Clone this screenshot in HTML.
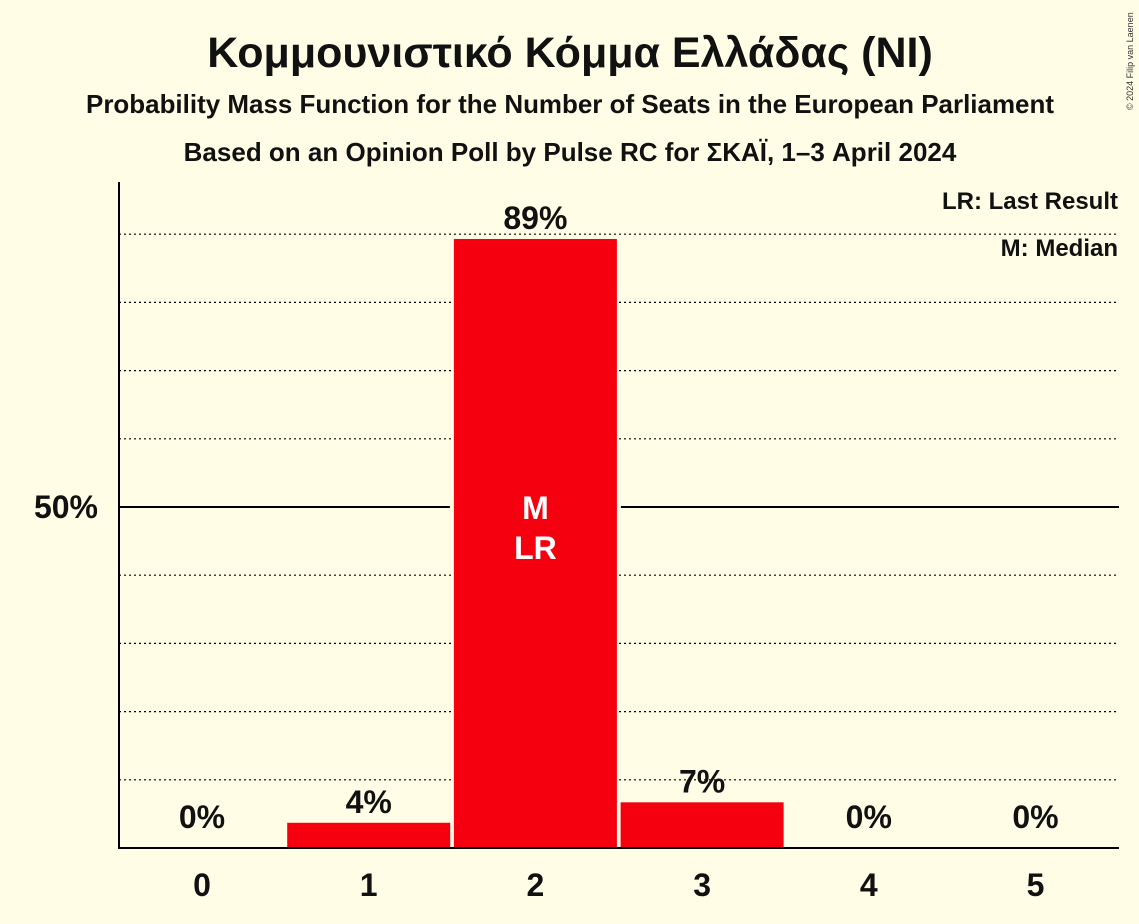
<!DOCTYPE html>
<html><head><meta charset="utf-8"><style>
body{margin:0;background:#fffde6;}
svg{display:block;font-family:"Liberation Sans","DejaVu Sans",sans-serif;}
</style></head><body>
<svg id="chart" width="1139" height="924" viewBox="0 0 1139 924">
<rect width="1139" height="924" fill="#fffde6"/>
<text x="570" y="67" text-anchor="middle" font-size="43" font-weight="bold" fill="#111">Κομμουνιστικό Κόμμα Ελλάδας (NI)</text>
<text x="570" y="113" text-anchor="middle" font-size="26" font-weight="bold" fill="#111" textLength="968" lengthAdjust="spacingAndGlyphs">Probability Mass Function for the Number of Seats in the European Parliament</text>
<text x="570" y="161" text-anchor="middle" font-size="26" font-weight="bold" fill="#111">Based on an Opinion Poll by Pulse RC for ΣΚΑΪ, 1–3 April 2024</text>
<text x="1133" y="110" font-size="9" fill="#333" transform="rotate(-90 1133 110)">© 2024 Filip van Laenen</text>
<g id="grid"></g>
<g id="bars"></g>
<line x1="119" y1="182" x2="119" y2="848" stroke="#000" stroke-width="2"/>
<line x1="118" y1="848" x2="1119" y2="848" stroke="#000" stroke-width="2"/>
<text x="98" y="518" text-anchor="end" font-size="32" font-weight="bold" fill="#111">50%</text>
<text x="1118" y="209" text-anchor="end" font-size="24" font-weight="bold" fill="#111">LR: Last Result</text>
<text x="1118" y="256" text-anchor="end" font-size="24" font-weight="bold" fill="#111">M: Median</text>
</svg>
<script>
const seats=[0,1,2,3,4,5];
const probs=[0,3.7,89.3,6.7,0,0];
const labels=["0%","4%","89%","7%","0%","0%"];
const medianSeat=2;
const lastResultSeat=2;
const NS="http://www.w3.org/2000/svg";
const x0=119,yBase=848,pxPer=6.82,step=166.7,bw=163;
const xc=i=>x0+83+i*step;
const y=v=>yBase-v*pxPer;
function mk(t,a,p){const e=document.createElementNS(NS,t);for(const k in a)e.setAttribute(k,a[k]);p.appendChild(e);return e;}
const grid=document.getElementById('grid'),bars=document.getElementById('bars');
for(let g=10;g<=90;g+=10){
 if(g===50)continue;
 const l=mk('line',{x1:119,x2:1119,y1:y(g),y2:y(g),stroke:'#000','stroke-width':1.2,'stroke-dasharray':'2,3'},grid);
 
 
}
seats.forEach((s,i)=>{
 const v=probs[i];
 if(v>0){
  const r=mk('rect',{x:xc(i)-bw/2,y:y(v),width:bw,height:yBase-y(v),fill:'#f5000f'},bars);
  
  
 }
 const ly=v>0?y(v)-10:y(0)-20;
 const t=mk('text',{x:xc(i),y:ly,'text-anchor':'middle','font-size':32,'font-weight':'bold',fill:'#111'},bars);
 t.textContent=labels[i];
 
 
 const xt=mk('text',{x:xc(i),y:896,'text-anchor':'middle','font-size':32,'font-weight':'bold',fill:'#111'},bars);
 xt.textContent=s;
 
 
});
const bg=mk('line',{x1:119,x2:1119,y1:y(50),y2:y(50),stroke:'#000','stroke-width':2},bars);


seats.forEach((s,i)=>{
 if(probs[i]>=50){
  const r=mk('rect',{x:xc(i)-bw/2-4,y:y(50)-2,width:bw+8,height:4,fill:'#fffde6'},bars);
  
  
  const r2=mk('rect',{x:xc(i)-bw/2,y:y(50)-2,width:bw,height:4,fill:'#f5000f'},bars);
  
  
 }
});
const mi=seats.indexOf(medianSeat);
const m=mk('text',{x:xc(mi),y:y(50)+12,'text-anchor':'middle','font-size':32,'font-weight':'bold',fill:'#fff'},bars);
m.textContent='M';


const li=seats.indexOf(lastResultSeat);
const lr=mk('text',{x:xc(li),y:y(50)+52,'text-anchor':'middle','font-size':32,'font-weight':'bold',fill:'#fff'},bars);
lr.textContent='LR';


</script>
</body></html>
